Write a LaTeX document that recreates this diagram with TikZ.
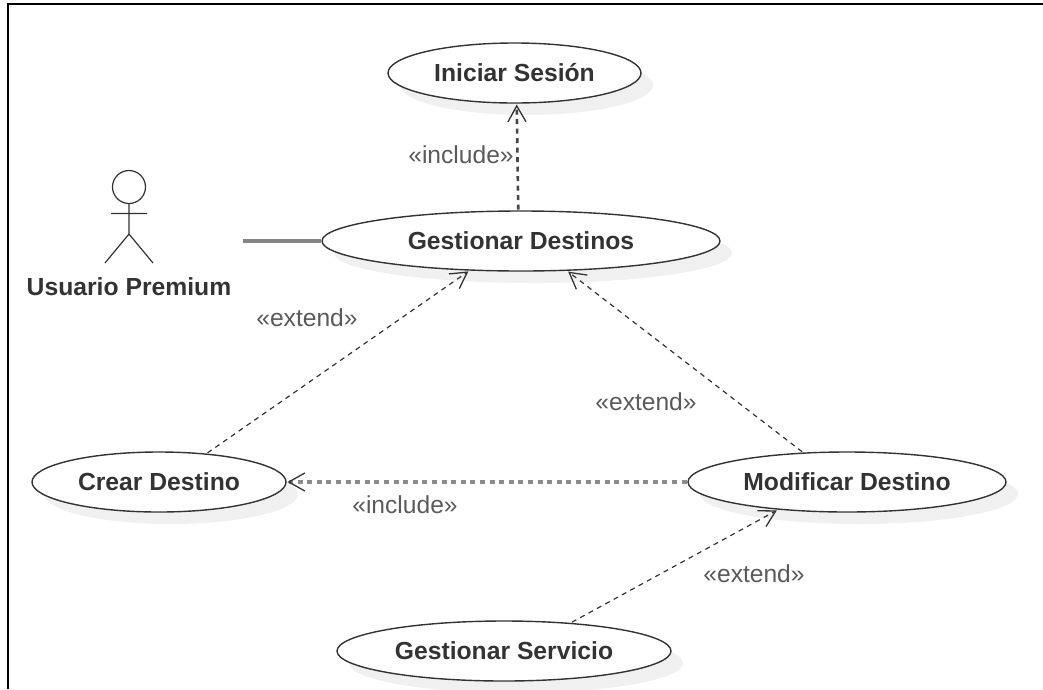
\documentclass[tikz,border=0pt]{standalone}
\usepackage{fontspec}
\setmainfont{Liberation Sans}
\usetikzlibrary{arrows.meta,shapes.geometric,shadows}
\definecolor{inkc}{HTML}{333333}
\definecolor{labc}{HTML}{5A5A5A}
\tikzset{
  usecase/.style={ellipse,draw=inkc,line width=1.4pt,fill=white,inner sep=0pt,outer sep=1.5pt,
    minimum height=60pt,font=\fontsize{24.7}{28}\selectfont\bfseries,text=inkc,
    general shadow={shadow xshift=12pt,shadow yshift=-12pt,fill=black!6}},
  opent/.style={-{Straight Barb[length=16pt,width=18pt,line width=1.3pt,color=inkc]}},
  extdep/.style={opent,draw=inkc,line width=1.2pt,dash pattern=on 5pt off 4.5pt},
  incdep/.style={opent,draw=black!72,line width=2.6pt,dash pattern=on 5pt off 4.5pt},
  incflat/.style={incdep,draw=black!45,line width=3.2pt,dash pattern=on 5pt off 4.6pt},
  stereo/.style={font=\fontsize{24.6}{28}\selectfont,text=labc,inner sep=0pt},
  actorline/.style={draw=inkc,line width=1.2pt},
  assoc/.style={draw=black!48,line width=3.2pt},
}
\begin{document}
\begin{tikzpicture}[x=1pt,y=-1pt]
\useasboundingbox (0,0) rectangle (1043,689);
\draw[line width=2.4pt,black] (8,689) -- (8,4) -- (1043,4);
% use cases
\node[usecase,minimum width=253pt] (ini) at (514.5,73) {Iniciar Sesión};
\node[usecase,minimum width=398pt] (ges) at (521,241) {Gestionar Destinos};
\node[usecase,minimum width=254pt] (cre) at (159,482) {Crear Destino};
\node[usecase,minimum width=318pt] (mod) at (847,482) {Modificar Destino};
\node[usecase,minimum width=334pt] (ser) at (504,651) {Gestionar Servicio};
% actor
\node[circle,actorline,minimum size=33pt,inner sep=0pt,outer sep=0pt] (head) at (129,187) {};
\coordinate (hip) at (129,234);
\coordinate (armL) at (111,213.5);
\coordinate (armR) at (147,213.5);
\coordinate (footL) at (105,263);
\coordinate (footR) at (153,263);
\draw[actorline] (head.south) -- (hip) (armL) -- (armR) (footL) -- (hip) -- (footR);
\node[font=\fontsize{24.7}{28}\selectfont\bfseries,text=inkc,inner sep=0pt] (usr) at (129,287) {Usuario Premium};
\coordinate (usrend) at (243,241);
% connectors
\draw[assoc] (usrend) -- (ges.west);
\draw[incdep] (ges.95.7) -- (ini.274.5);
\draw[extdep] (cre.31) -- (ges.210.6);
\draw[extdep] (mod.146.8) -- (ges.-33.7);
\draw[incflat] (mod.west) -- (cre.east);
\draw[extdep] (ser.23.4) -- (mod.202.5);
% labels
\node[stereo] (l1) at (461,155) {«include»};
\node[stereo] (l2) at (307,318) {«extend»};
\node[stereo] (l3) at (646,402) {«extend»};
\node[stereo] (l4) at (405,505) {«include»};
\node[stereo] (l5) at (754,574) {«extend»};
\end{tikzpicture}
\end{document}
